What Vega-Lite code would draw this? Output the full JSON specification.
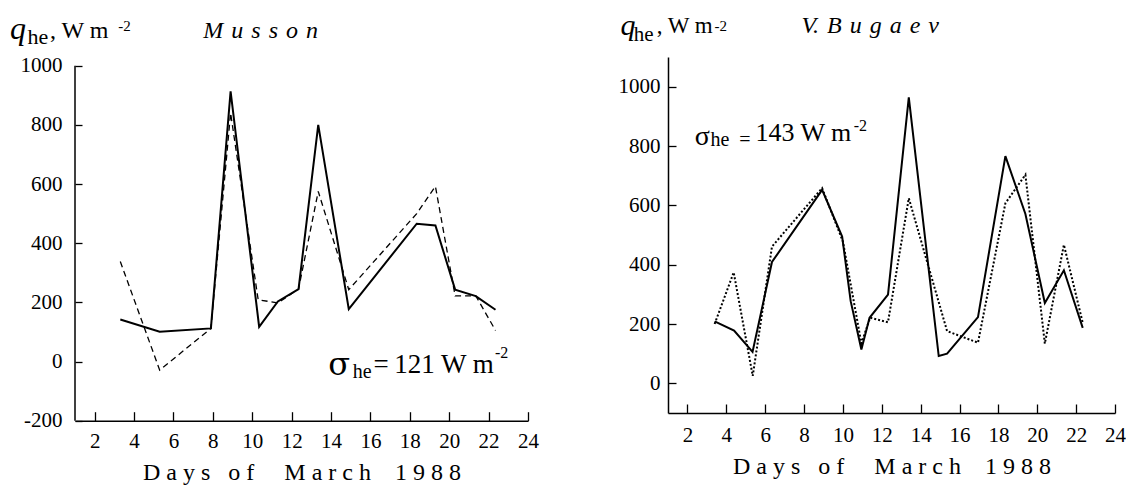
{
  "$schema": "https://vega.github.io/schema/vega-lite/v6.json",
  "background": "white",
  "padding": {"left": 10, "top": 10, "right": 0, "bottom": 0},
  "spacing": 79,
  "config": {
    "view": {"stroke": null},
    "font": "Liberation Serif",
    "axis": {
      "grid": false,
      "domainColor": "black",
      "domainWidth": 1.5,
      "tickColor": "black",
      "tickWidth": 1.3,
      "labelFont": "Liberation Serif",
      "labelFontSize": 21,
      "labelColor": "black",
      "labelOverlap": false,
      "labelFlush": false,
      "labelBound": false,
      "titleFont": "Liberation Serif",
      "titleFontSize": 24,
      "titleFontWeight": "normal",
      "titleColor": "black"
    },
    "text": {"font": "Liberation Serif", "color": "black", "align": "left", "baseline": "alphabetic"}
  },
  "datasets": {
    "musson": [
      {"day": 3.3, "series": "measured", "q": 142},
      {"day": 5.3, "series": "measured", "q": 101},
      {"day": 7.9, "series": "measured", "q": 112},
      {"day": 8.9, "series": "measured", "q": 913},
      {"day": 10.35, "series": "measured", "q": 117},
      {"day": 11.3, "series": "measured", "q": 203},
      {"day": 12.35, "series": "measured", "q": 245},
      {"day": 13.35, "series": "measured", "q": 800},
      {"day": 14.9, "series": "measured", "q": 177},
      {"day": 18.35, "series": "measured", "q": 466},
      {"day": 19.3, "series": "measured", "q": 460},
      {"day": 20.3, "series": "measured", "q": 243},
      {"day": 21.35, "series": "measured", "q": 221},
      {"day": 22.35, "series": "measured", "q": 175},
      {"day": 3.3, "series": "computed", "q": 338},
      {"day": 5.3, "series": "computed", "q": -29},
      {"day": 7.9, "series": "computed", "q": 112},
      {"day": 8.9, "series": "computed", "q": 840},
      {"day": 10.3, "series": "computed", "q": 209},
      {"day": 11.3, "series": "computed", "q": 198},
      {"day": 12.35, "series": "computed", "q": 245},
      {"day": 13.35, "series": "computed", "q": 575},
      {"day": 14.9, "series": "computed", "q": 243},
      {"day": 18.35, "series": "computed", "q": 500},
      {"day": 19.3, "series": "computed", "q": 592},
      {"day": 20.3, "series": "computed", "q": 222},
      {"day": 21.35, "series": "computed", "q": 222},
      {"day": 22.35, "series": "computed", "q": 105}
    ],
    "bugaev": [
      {"day": 3.4, "series": "measured", "q": 209},
      {"day": 4.4, "series": "measured", "q": 178},
      {"day": 5.35, "series": "measured", "q": 106},
      {"day": 6.35, "series": "measured", "q": 409},
      {"day": 8.93, "series": "measured", "q": 652},
      {"day": 9.96, "series": "measured", "q": 495},
      {"day": 10.4, "series": "measured", "q": 277},
      {"day": 10.95, "series": "measured", "q": 114},
      {"day": 11.37, "series": "measured", "q": 221},
      {"day": 12.32, "series": "measured", "q": 299},
      {"day": 13.39, "series": "measured", "q": 964},
      {"day": 14.93, "series": "measured", "q": 92},
      {"day": 15.36, "series": "measured", "q": 100},
      {"day": 16.95, "series": "measured", "q": 223},
      {"day": 18.36, "series": "measured", "q": 766},
      {"day": 19.39, "series": "measured", "q": 571},
      {"day": 20.39, "series": "measured", "q": 271},
      {"day": 21.37, "series": "measured", "q": 381},
      {"day": 22.34, "series": "measured", "q": 187},
      {"day": 3.4, "series": "computed", "q": 200},
      {"day": 4.38, "series": "computed", "q": 374},
      {"day": 5.36, "series": "computed", "q": 25},
      {"day": 6.35, "series": "computed", "q": 461},
      {"day": 8.93, "series": "computed", "q": 658},
      {"day": 10.0, "series": "computed", "q": 478},
      {"day": 10.95, "series": "computed", "q": 135},
      {"day": 11.4, "series": "computed", "q": 221},
      {"day": 12.32, "series": "computed", "q": 206},
      {"day": 13.39, "series": "computed", "q": 624},
      {"day": 15.36, "series": "computed", "q": 176},
      {"day": 16.95, "series": "computed", "q": 137},
      {"day": 18.36, "series": "computed", "q": 607},
      {"day": 19.39, "series": "computed", "q": 703},
      {"day": 20.39, "series": "computed", "q": 134},
      {"day": 21.37, "series": "computed", "q": 467},
      {"day": 22.34, "series": "computed", "q": 204}
    ]
  },
  "hconcat": [
    {
      "width": 453,
      "height": 363.7,
      "layer": [
        {
          "data": {"name": "musson"},
          "transform": [{"filter": "datum.series === 'measured'"}],
          "mark": {"type": "line", "color": "black", "strokeWidth": 2},
          "encoding": {
            "x": {
              "field": "day",
              "type": "quantitative",
              "scale": {"domain": [1, 24], "nice": false, "zero": false},
              "axis": {
                "values": [2, 3, 4, 5, 6, 7, 8, 9, 10, 11, 12, 13, 14, 15, 16, 17, 18, 19, 20, 21, 22, 23, 24],
                "labelExpr": "datum.value % 2 === 0 ? '' + datum.value : ''",
                "labelOverlap": false,
                "tickSize": {"condition": {"test": "datum.value % 2 === 0", "value": -9}, "value": -4},
                "labelPadding": 18.6,
                "title": "D a y s\u00a0 \u00a0o f\u00a0 \u00a0 \u00a0M a r c h\u00a0 \u00a0 1 9 8 8",
                "titlePadding": 9
              }
            },
            "y": {
              "field": "q",
              "type": "quantitative",
              "scale": {"domain": [-200, 1029.4], "nice": false, "zero": false},
              "axis": {
                "values": [-200, -100, 0, 100, 200, 300, 400, 500, 600, 700, 800, 900, 1000],
                "labelExpr": "datum.value % 200 === 0 ? '' + datum.value : ''",
                "labelOverlap": false,
                "tickSize": {"condition": {"test": "datum.value % 200 === 0", "value": -7}, "value": -5},
                "labelPadding": 20,
                "domain": false,
                "title": null
              }
            }
          }
        },
        {
          "data": {"name": "musson"},
          "transform": [{"filter": "datum.series === 'computed'"}],
          "mark": {"type": "line", "color": "black", "strokeWidth": 1.3, "strokeDash": [6, 4]},
          "encoding": {
            "x": {"field": "day", "type": "quantitative"},
            "y": {"field": "q", "type": "quantitative"}
          }
        },
        {
          "data": {"values": [{}]},
          "mark": {"type": "rule", "color": "black", "strokeWidth": 1.5},
          "encoding": {
            "x": {"datum": 1, "type": "quantitative"},
            "y": {"datum": -200, "type": "quantitative"},
            "y2": {"datum": 1000}
          }
        },
        {
          "data": {"values": [{}]},
          "mark": {"type": "text", "fontSize": 32, "fontStyle": "italic", "dx": -65, "dy": -26.5},
          "encoding": {"x": {"datum": 1, "type": "quantitative"}, "y": {"datum": 1000, "type": "quantitative"}, "text": {"value": "q"}}
        },
        {
          "data": {"values": [{}]},
          "mark": {"type": "text", "fontSize": 22, "dx": -47.5, "dy": -21.7},
          "encoding": {"x": {"datum": 1, "type": "quantitative"}, "y": {"datum": 1000, "type": "quantitative"}, "text": {"value": "he"}}
        },
        {
          "data": {"values": [{}]},
          "mark": {"type": "text", "fontSize": 24, "dx": -25, "dy": -27.7},
          "encoding": {"x": {"datum": 1, "type": "quantitative"}, "y": {"datum": 1000, "type": "quantitative"}, "text": {"value": ", W m"}}
        },
        {
          "data": {"values": [{}]},
          "mark": {"type": "text", "fontSize": 15, "dx": 43.3, "dy": -34.3},
          "encoding": {"x": {"datum": 1, "type": "quantitative"}, "y": {"datum": 1000, "type": "quantitative"}, "text": {"value": "-2"}}
        },
        {
          "data": {"values": [{}]},
          "mark": {"type": "text", "fontSize": 24, "fontStyle": "italic", "dx": 128.3, "dy": -27.7},
          "encoding": {"x": {"datum": 1, "type": "quantitative"}, "y": {"datum": 1000, "type": "quantitative"}, "text": {"value": "M\u2004u\u2004s\u2004s\u2004o\u2004n"}}
        },
        {
          "data": {"values": [{}]},
          "mark": {"type": "text", "font": "DejaVu Serif", "fontSize": 32, "dx": 253.3, "dy": 309},
          "encoding": {"x": {"datum": 1, "type": "quantitative"}, "y": {"datum": 1000, "type": "quantitative"}, "text": {"value": "σ"}}
        },
        {
          "data": {"values": [{}]},
          "mark": {"type": "text", "fontSize": 20, "dx": 277.8, "dy": 312.3},
          "encoding": {"x": {"datum": 1, "type": "quantitative"}, "y": {"datum": 1000, "type": "quantitative"}, "text": {"value": "he"}}
        },
        {
          "data": {"values": [{}]},
          "mark": {"type": "text", "fontSize": 27, "dx": 298.6, "dy": 307.3},
          "encoding": {"x": {"datum": 1, "type": "quantitative"}, "y": {"datum": 1000, "type": "quantitative"}, "text": {"value": "=\u2009121 W m"}}
        },
        {
          "data": {"values": [{}]},
          "mark": {"type": "text", "fontSize": 16, "dx": 420, "dy": 292.3},
          "encoding": {"x": {"datum": 1, "type": "quantitative"}, "y": {"datum": 1000, "type": "quantitative"}, "text": {"value": "-2"}}
        }
      ]
    },
    {
      "width": 447,
      "height": 356,
      "layer": [
        {
          "data": {"name": "bugaev"},
          "transform": [{"filter": "datum.series === 'measured'"}],
          "mark": {"type": "line", "color": "black", "strokeWidth": 2},
          "encoding": {
            "x": {
              "field": "day",
              "type": "quantitative",
              "scale": {"domain": [1, 24], "nice": false, "zero": false},
              "axis": {
                "values": [2, 3, 4, 5, 6, 7, 8, 9, 10, 11, 12, 13, 14, 15, 16, 17, 18, 19, 20, 21, 22, 23, 24],
                "labelExpr": "datum.value % 2 === 0 ? '' + datum.value : ''",
                "labelOverlap": false,
                "tickSize": {"condition": {"test": "datum.value % 2 === 0", "value": -9}, "value": -4},
                "labelPadding": 20.3,
                "title": "D a y s\u00a0 \u00a0o f\u00a0 \u00a0 \u00a0M a r c h\u00a0 \u00a0 1 9 8 8",
                "titlePadding": 9
              }
            },
            "y": {
              "field": "q",
              "type": "quantitative",
              "scale": {"domain": [-100, 1100], "nice": false, "zero": false},
              "axis": {
                "values": [0, 100, 200, 300, 400, 500, 600, 700, 800, 900, 1000, 1100],
                "labelExpr": "datum.value % 200 === 0 ? '' + datum.value : ''",
                "labelOverlap": false,
                "tickSize": {"condition": {"test": "datum.value % 200 === 0", "value": -8}, "value": -5},
                "labelPadding": 16,
                "title": null
              }
            }
          }
        },
        {
          "data": {"name": "bugaev"},
          "transform": [{"filter": "datum.series === 'computed'"}],
          "mark": {"type": "line", "color": "black", "strokeWidth": 2, "strokeDash": [2, 2]},
          "encoding": {
            "x": {"field": "day", "type": "quantitative"},
            "y": {"field": "q", "type": "quantitative"}
          }
        },
        {
          "data": {"values": [{}]},
          "mark": {"type": "text", "fontSize": 30, "fontStyle": "italic", "dx": -47.6, "dy": -22.1},
          "encoding": {"x": {"datum": 1, "type": "quantitative"}, "y": {"datum": 1100, "type": "quantitative"}, "text": {"value": "q"}}
        },
        {
          "data": {"values": [{}]},
          "mark": {"type": "text", "fontSize": 21, "dx": -34.3, "dy": -15.6},
          "encoding": {"x": {"datum": 1, "type": "quantitative"}, "y": {"datum": 1100, "type": "quantitative"}, "text": {"value": "he"}}
        },
        {
          "data": {"values": [{}]},
          "mark": {"type": "text", "fontSize": 23, "dx": -11.3, "dy": -24},
          "encoding": {"x": {"datum": 1, "type": "quantitative"}, "y": {"datum": 1100, "type": "quantitative"}, "text": {"value": ", W m"}}
        },
        {
          "data": {"values": [{}]},
          "mark": {"type": "text", "fontSize": 15, "dx": 46.5, "dy": -25.6},
          "encoding": {"x": {"datum": 1, "type": "quantitative"}, "y": {"datum": 1100, "type": "quantitative"}, "text": {"value": "-2"}}
        },
        {
          "data": {"values": [{}]},
          "mark": {"type": "text", "fontSize": 24, "fontStyle": "italic", "dx": 133.4, "dy": -24},
          "encoding": {"x": {"datum": 1, "type": "quantitative"}, "y": {"datum": 1100, "type": "quantitative"}, "text": {"value": "V.\u2004B\u2004u\u2004g\u2004a\u2004e\u2004v"}}
        },
        {
          "data": {"values": [{}]},
          "mark": {"type": "text", "fontSize": 28, "dx": 26.7, "dy": 87.7},
          "encoding": {"x": {"datum": 1, "type": "quantitative"}, "y": {"datum": 1100, "type": "quantitative"}, "text": {"value": "σ"}}
        },
        {
          "data": {"values": [{}]},
          "mark": {"type": "text", "fontSize": 20, "dx": 42.4, "dy": 88.7},
          "encoding": {"x": {"datum": 1, "type": "quantitative"}, "y": {"datum": 1100, "type": "quantitative"}, "text": {"value": "he\u2002="}}
        },
        {
          "data": {"values": [{}]},
          "mark": {"type": "text", "fontSize": 26, "dx": 87.4, "dy": 84.4},
          "encoding": {"x": {"datum": 1, "type": "quantitative"}, "y": {"datum": 1100, "type": "quantitative"}, "text": {"value": "143 W m"}}
        },
        {
          "data": {"values": [{}]},
          "mark": {"type": "text", "fontSize": 16, "dx": 185.7, "dy": 74.4},
          "encoding": {"x": {"datum": 1, "type": "quantitative"}, "y": {"datum": 1100, "type": "quantitative"}, "text": {"value": "-2"}}
        }
      ]
    }
  ]
}
